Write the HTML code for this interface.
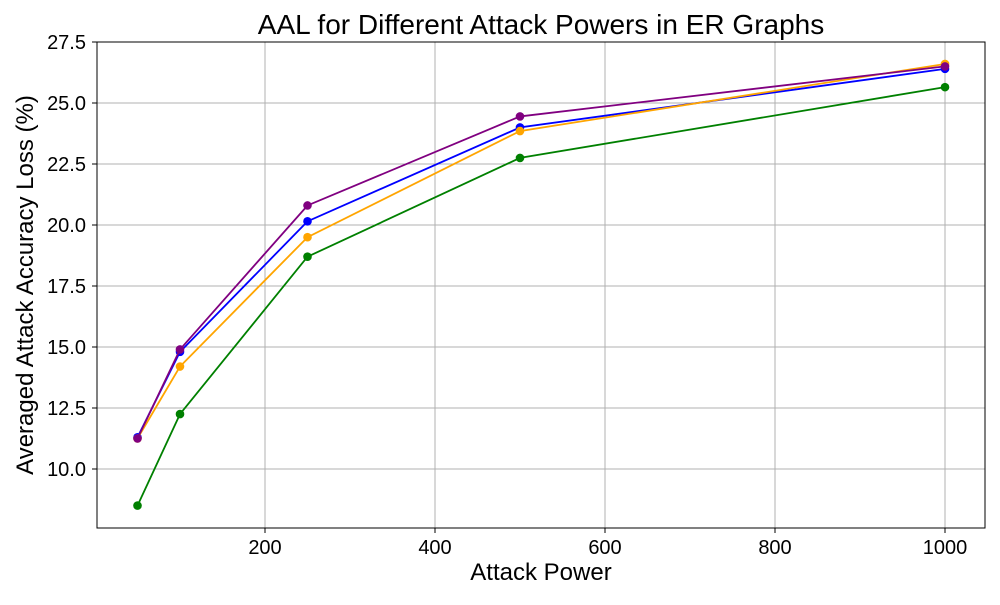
<!DOCTYPE html>
<html><head><meta charset="utf-8"><style>
body{margin:0;background:#fff}
text{font-family:"Liberation Sans","DejaVu Sans",sans-serif}
</style></head><body>
<svg id="chart" width="1000" height="600" xmlns="http://www.w3.org/2000/svg">
<rect width="1000" height="600" fill="#fff"/>
<g id="grid"></g>
<g id="series"></g>
<rect x="97" y="42" width="888" height="486" fill="none" stroke="#000" stroke-width="1"/>
<g id="axes"></g>
<text x="541" y="34" text-anchor="middle" font-size="28">AAL for Different Attack Powers in ER Graphs</text>
<text x="541" y="580" text-anchor="middle" font-size="24">Attack Power</text>
<text transform="translate(33,285) rotate(-90)" text-anchor="middle" font-size="24">Averaged Attack Accuracy Loss (%)</text>
</svg>
<script>
const xValues=[50,100,250,500,1000];
const greenSeries=[8.5,12.25,18.7,22.75,25.65];
const orangeSeries=[11.25,14.2,19.5,23.85,26.6];
const blueSeries=[11.3,14.8,20.15,24.0,26.4];
const purpleSeries=[11.25,14.9,20.8,24.45,26.5];
const xTicks=[200,400,600,800,1000];
const yTicks=[10.0,12.5,15.0,17.5,20.0,22.5,25.0,27.5];
const NS="http://www.w3.org/2000/svg";
function sx(v){return 95+v*0.85;}
function sy(v){return 469-(v-10)*24.4;}
function mk(tag,attrs,parent){const e=document.createElementNS(NS,tag);for(const k in attrs)e.setAttribute(k,attrs[k]);parent.appendChild(e);return e;}
const grid=document.getElementById('grid'),axes=document.getElementById('axes'),ser=document.getElementById('series');
xTicks.forEach(t=>{const x=sx(t);
const g=mk('line',{x1:x,x2:x,y1:42,y2:528,stroke:'#b0b0b0','stroke-width':1},grid);


const tk=mk('line',{x1:x,x2:x,y1:528,y2:533,stroke:'#000'},axes);


const lb=mk('text',{x:x,y:554,'text-anchor':'middle','font-size':20},axes);lb.textContent=t;

});
yTicks.forEach(t=>{const y=sy(t);
const g=mk('line',{x1:97,x2:985,y1:y,y2:y,stroke:'#b0b0b0','stroke-width':1},grid);


const tk=mk('line',{x1:92,x2:97,y1:y,y2:y,stroke:'#000'},axes);


const lb=mk('text',{x:86,y:y+7,'text-anchor':'end','font-size':20},axes);lb.textContent=t.toFixed(1);

});
function draw(vals,color,name){
const g=mk('g',{},ser);


const p=mk('polyline',{points:vals.map((v,i)=>sx(xValues[i])+','+sy(v)).join(' '),fill:'none',stroke:color,'stroke-width':1.8},g);


vals.forEach((v,i)=>{const c=mk('circle',{cx:sx(xValues[i]),cy:sy(v),r:4.3,fill:color},g);

});}
draw(greenSeries,'green','green');
draw(blueSeries,'blue','blue');
draw(orangeSeries,'orange','orange');
draw(purpleSeries,'purple','purple');
</script>
</body></html>
